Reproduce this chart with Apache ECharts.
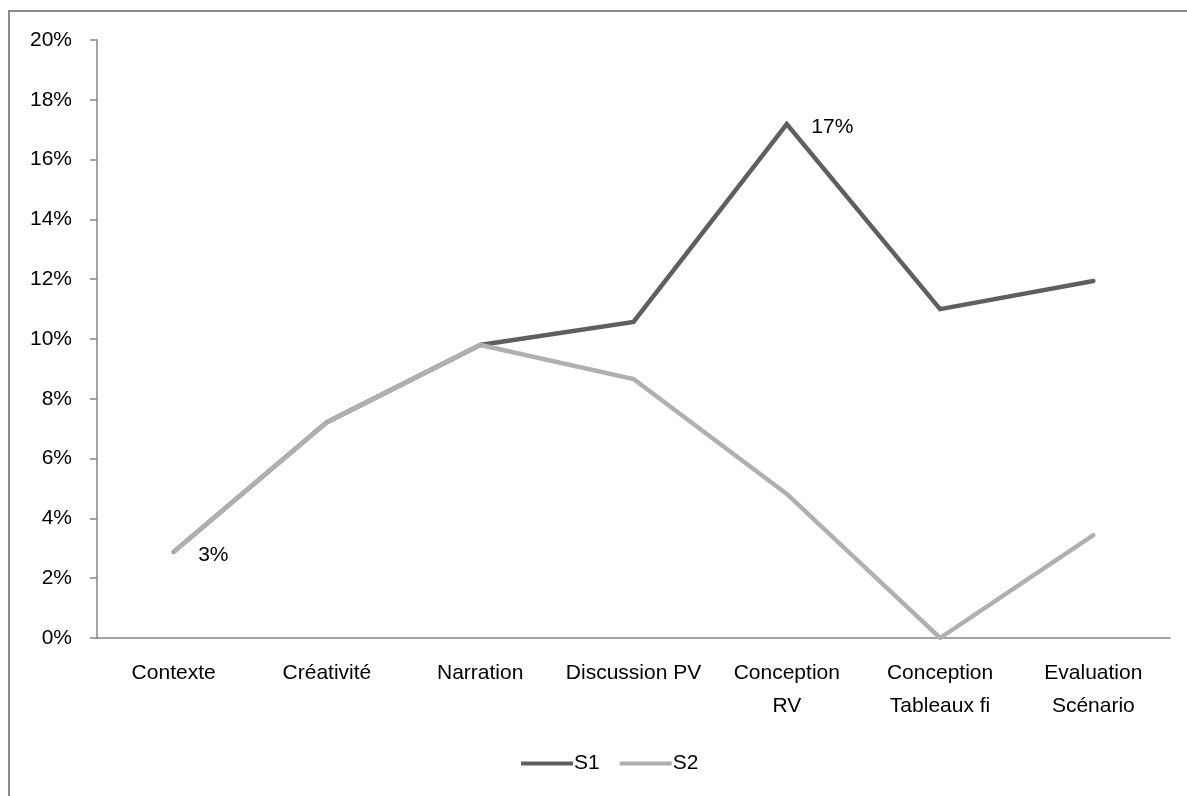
<!DOCTYPE html>
<html>
<head>
<meta charset="utf-8">
<script src="https://cdn.jsdelivr.net/npm/echarts@6/dist/echarts.min.js"></script>
<style>
    html, body { margin: 0; padding: 0; background: #fff; }
    #frame {
        position: absolute; left: 8px; top: 10px; width: 1179px; height: 786px;
        border-left: 2px solid #8c8c8c; border-top: 2px solid #8c8c8c;
    }
    #chart { position: absolute; left: 0; top: 0; width: 1187px; height: 796px; }
</style>
</head>
<body>
<div id="frame"></div>
<div id="chart"></div>
<script>
// categories and series values (percent)
const categories = ['Contexte', 'Créativité', 'Narration', 'Discussion PV', 'Conception\nRV', 'Conception\nTableaux fi', 'Evaluation\nScénario'];
const s1Values = [2.88, 7.22, 9.8, 10.57, 17.19, 11.0, 11.94];
const s2Values = [2.88, 7.22, 9.8, 8.66, 4.82, 0, 3.44];
const yTicks = { min: 0, max: 20, interval: 2 };

// which points carry a data label
const s1Labelled = [4];
const s2Labelled = [0];

const FONT = "'Liberation Sans', sans-serif";
const FONT_SIZE = 21;
const AXIS_COLOR = '#868686';

function withLabels(values, labelled) {
    return values.map((v, i) => {
        if (!labelled.includes(i)) return v;
        return {
            value: v,
            label: {
                show: true,
                position: 'right',
                distance: 24,
                offset: [0, 3],
                formatter: p => Math.round(p.value) + '%',
                color: '#000',
                fontFamily: FONT,
                fontSize: FONT_SIZE
            }
        };
    });
}

function lineSeries(name, values, labelled, color) {
    return {
        name: name,
        type: 'line',
        data: withLabels(values, labelled),
        // tiny symbol so labels still render
        symbol: 'circle',
        symbolSize: 1,
        lineStyle: { color: color, width: 4.5, cap: 'round', join: 'miter' },
        itemStyle: { color: color }
    };
}

const chart = echarts.init(document.getElementById('chart'));

chart.setOption({
    animation: false,
    grid: { left: 97, right: 17, top: 40, bottom: 158 },
    legend: {
        bottom: 17,
        left: 516,
        icon: 'rect',
        itemWidth: 52,
        itemHeight: 4,
        itemGap: 20,
        textStyle: { color: '#000', fontFamily: FONT, fontSize: FONT_SIZE, padding: [0, 0, 0, -4] },
        data: ['S1', 'S2']
    },
    xAxis: {
        type: 'category',
        data: categories,
        boundaryGap: true,
        axisLine: { lineStyle: { color: AXIS_COLOR, width: 1.5 } },
        axisTick: { interval: 0, length: 8, lineStyle: { color: AXIS_COLOR, width: 1.5 } },
        axisLabel: { interval: 0, margin: 19, color: '#000', fontFamily: FONT, fontSize: FONT_SIZE, lineHeight: 33 }
    },
    yAxis: {
        type: 'value',
        min: yTicks.min,
        max: yTicks.max,
        interval: yTicks.interval,
        axisLine: { show: true, lineStyle: { color: AXIS_COLOR, width: 1.5 } },
        axisTick: { show: true, length: 7, lineStyle: { color: AXIS_COLOR, width: 1.5 } },
        splitLine: { show: false },
        axisLabel: { margin: 25, color: '#000', fontFamily: FONT, fontSize: FONT_SIZE, formatter: '{value}%' }
    },
    series: [
        lineSeries('S1', s1Values, s1Labelled, '#5f5f5f'),
        lineSeries('S2', s2Values, s2Labelled, '#b0b0b0')
    ]
});
</script>
</body>
</html>
